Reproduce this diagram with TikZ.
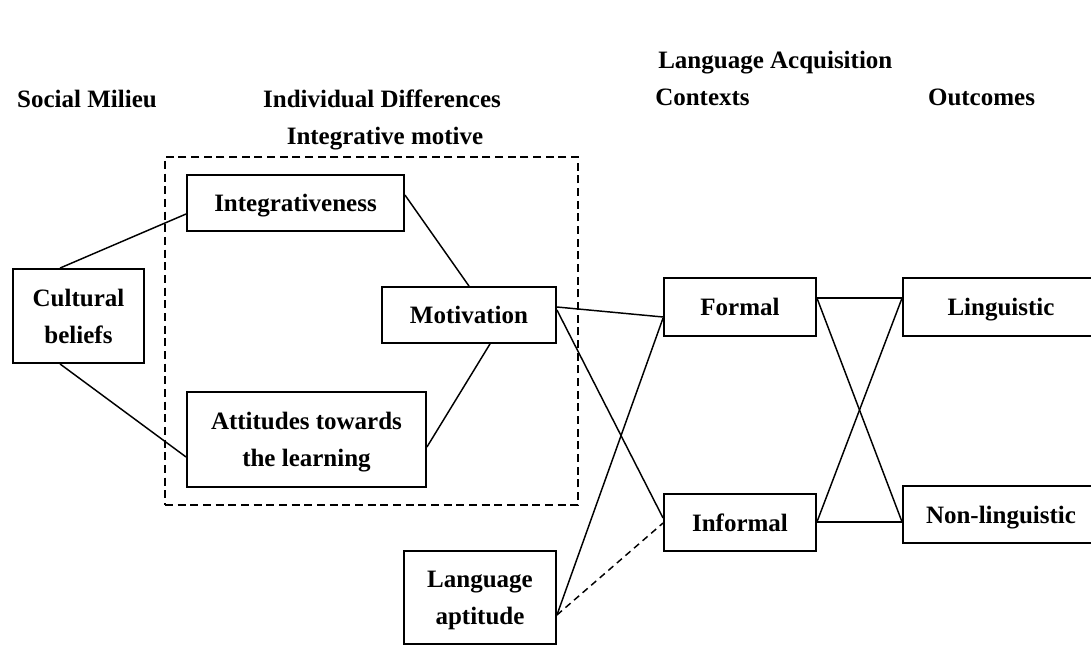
\documentclass[tikz,border=0pt]{standalone}
\usepackage{fontspec}
\setmainfont{Liberation Serif}
\usetikzlibrary{calc}
\begin{document}
\begin{tikzpicture}[x=0.75pt,y=-0.75pt,
  txt/.style={font=\bfseries\fontsize{18.75}{28}\selectfont},
  box/.style={txt, draw, line width=1.4pt, inner sep=0pt, align=center, text depth=0pt},
  wh/.style 2 args={minimum width=#1*0.75pt, minimum height=#2*0.75pt},
  group/.style={draw, line width=1.4pt, dash pattern=on 6pt off 3.5pt, inner sep=0pt},
  head/.style={txt, inner sep=0pt, anchor=base},
  link/.style={line width=1.1pt},
]
\useasboundingbox (0,0) rectangle (1091,645);
\clip (0,0) rectangle (1091,645);

% column headings
\node[head] (hsoc) at (87,108) {Social Milieu};
\node[head] (hind) at (382,108) {Individual Differences};
\node[head] (hint) at (385,145) {Integrative motive};
\node[head, anchor=base west] (hlan) at (658,69) {Language Acquisition};
\node[head, anchor=base west] (hctx) at (655,106) {Contexts};
\node[head] (hout) at (981.5,106) {Outcomes};

% integrative motive group
\node[group, wh={413}{348}] (motive) at (371.5,331) {};

% boxes
\node[box, wh={131}{94}] (cult) at (78.5,316) {Cultural\\beliefs};
\node[box, wh={217}{56}] (integ) at (295.5,203) {Integrativeness};
\node[box, wh={174}{56}] (motiv) at (469,315) {Motivation};
\node[box, wh={239}{95}] (att) at (306.5,439.5) {Attitudes towards\\the learning};
\node[box, wh={152}{93}] (apt) at (480,597.5) {Language\\aptitude};
\node[box, wh={152}{58}] (formal) at (740,307) {Formal};
\node[box, wh={152}{57}] (informal) at (740,522.5) {Informal};
\node[box, wh={196}{58}] (ling) at (1001,307) {Linguistic};
\node[box, wh={196}{57}] (nonling) at (1001,514.5) {Non-linguistic};

% connections
\draw[link] ($(cult.north)+(-18.5,0)$) -- ($(integ.west)+(0,11)$);
\draw[link] ($(cult.south)+(-18.5,0)$) -- ($(att.west)+(0,17.5)$);
\draw[link] ($(integ.east)+(0,-8)$) -- (motiv.north);
\draw[link] ($(att.east)+(0,7.5)$) -- ($(motiv.south)+(21,0)$);
\draw[link] ($(motiv.east)+(0,-8)$) -- ($(formal.west)+(0,10)$);
\draw[link] ($(motiv.east)+(0,-5)$) -- ($(informal.west)+(0,-4.5)$);
\draw[link] ($(apt.east)+(0,17.5)$) -- ($(formal.west)+(0,11)$);
\draw[link, dash pattern=on 5pt off 3.5pt] ($(apt.east)+(0,17.5)$) -- ($(informal.west)+(0,0.5)$);
\draw[line width=2.2pt] ($(formal.east)+(0,-9)$) -- ($(ling.west)+(0,-9)$);
\draw[link] ($(formal.east)+(0,-9)$) -- ($(nonling.west)+(0,7.5)$);
\draw[link] ($(informal.east)+(0,-0.5)$) -- ($(ling.west)+(0,-9)$);
\draw[link] ($(informal.east)+(0,-0.5)$) -- ($(nonling.west)+(0,7.5)$);
\end{tikzpicture}
\end{document}
